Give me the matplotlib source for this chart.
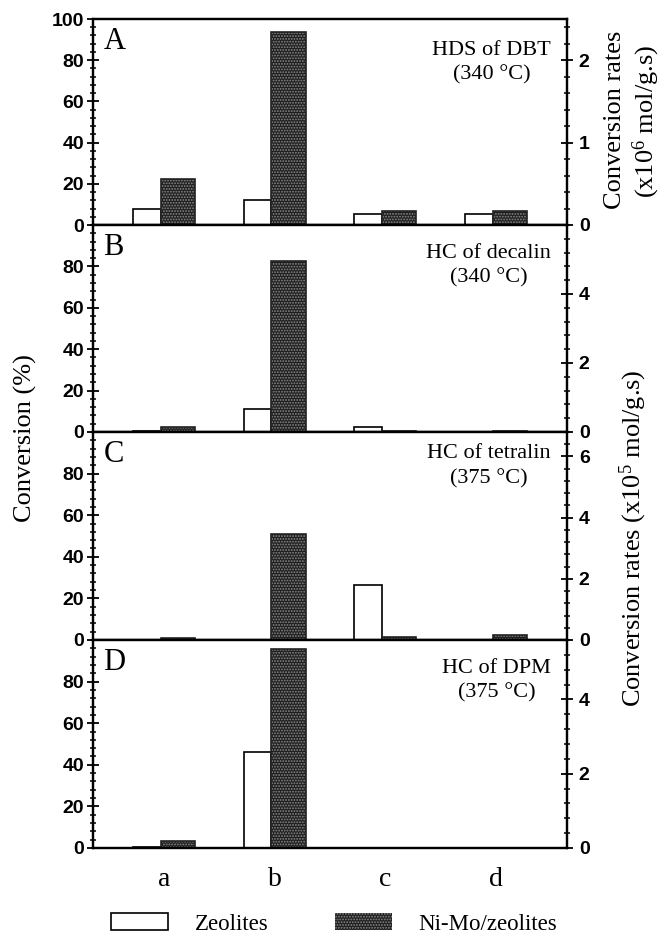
import numpy as np
import matplotlib
matplotlib.use("Agg")
import matplotlib.pyplot as plt
from matplotlib.ticker import MultipleLocator, FixedLocator
from matplotlib.patches import Patch

# ---------------- data ----------------
categories = ["a", "b", "c", "d"]
panel_letters = ["A", "B", "C", "D"]
panel_titles = ["HDS of DBT\n(340 °C)", "HC of decalin\n(340 °C)",
                "HC of tetralin\n(375 °C)", "HC of DPM\n(375 °C)"]
zeolites_A = [7.8, 12.2, 5.4, 5.4]
nimo_A = [22.5, 93.8, 7.0, 7.0]
zeolites_B = [0.5, 11.1, 2.6, 0.2]
nimo_B = [2.6, 82.4, 0.6, 0.3]
zeolites_C = [0.0, 0.0, 26.5, 0.0]
nimo_C = [1.1, 50.9, 1.6, 2.6]
zeolites_D = [0.5, 46.0, 0.0, 0.0]
nimo_D = [3.5, 95.6, 0.0, 0.0]
right_max = [2.5, 6.0, 6.8, 5.6]
right_major = [[0, 1, 2], [0, 2, 4], [0, 2, 4, 6], [0, 2, 4]]
right_minor = [0.2, 0.4, 0.4, 0.4]
left_major = [[0, 20, 40, 60, 80, 100], [0, 20, 40, 60, 80],
              [0, 20, 40, 60, 80], [0, 20, 40, 60, 80]]
legend_labels = ["Zeolites", "Ni-Mo/zeolites"]

zeo = [zeolites_A, zeolites_B, zeolites_C, zeolites_D]
nimo = [nimo_A, nimo_B, nimo_C, nimo_D]

# ---------------- style ----------------
SERIF = "Liberation Serif"
SANS = "Liberation Sans"
plt.rcParams["mathtext.fontset"] = "custom"
plt.rcParams["mathtext.rm"] = SERIF
plt.rcParams["mathtext.it"] = SERIF
plt.rcParams["hatch.linewidth"] = 0.9

W, H = 662, 934
fig = plt.figure(figsize=(W / 100, H / 100), dpi=100)

left_px, right_px = 93, 567
tops = [19, 225, 432, 640]
bots = [225, 432, 640, 848]
title_off = [0.105, 0.09, 0.06, 0.09]

x = np.arange(len(categories))
dark_face = "#1e1e1e"
dot_col = "#8a8a8a"

for i in range(4):
    ax = fig.add_axes([left_px / W, 1 - bots[i] / H,
                       (right_px - left_px) / W, (bots[i] - tops[i]) / H])
    ax.bar(x - 0.28, zeo[i], width=0.25, align="edge", facecolor="white",
           edgecolor="black", linewidth=1.2, zorder=2)
    ax.bar(x - 0.03, nimo[i], width=0.31, align="edge", facecolor=dark_face,
           edgecolor=dot_col, hatch="......", linewidth=0, zorder=2)
    ax.bar(x - 0.03, nimo[i], width=0.31, align="edge", fill=False,
           edgecolor="#222222", linewidth=1.2, zorder=3)
    ax.set_xlim(-0.64, 3.64)
    ax.set_ylim(0, 100)
    ax.yaxis.set_major_locator(FixedLocator(left_major[i]))
    ax.yaxis.set_minor_locator(MultipleLocator(4))
    ax.tick_params(axis="y", which="major", direction="inout", length=9,
                   width=1.3, pad=2, labelsize=14)
    ax.tick_params(axis="y", which="minor", direction="inout", length=5,
                   width=1.1)
    for lab in ax.get_yticklabels():
        lab.set_fontfamily(SANS)
        lab.set_fontweight("bold")
    if i == 3:
        ax.set_xticks(x)
        ax.set_xticklabels(categories, fontfamily=SERIF, fontsize=20)
        ax.tick_params(axis="x", length=0, pad=14)
    else:
        ax.set_xticks([])
    for s in ax.spines.values():
        s.set_linewidth(1.6)
        s.set_zorder(5)

    ax.text(0.022, 0.96, panel_letters[i], transform=ax.transAxes,
            ha="left", va="top", fontfamily=SERIF, fontsize=22)
    ax.text(0.966, 1 - title_off[i], panel_titles[i], transform=ax.transAxes,
            ha="right", va="top", multialignment="center",
            fontfamily=SERIF, fontsize=16, linespacing=1.4)

    ax2 = ax.twinx()
    ax2.set_ylim(0, right_max[i])
    ax2.yaxis.set_major_locator(FixedLocator(right_major[i]))
    ax2.yaxis.set_minor_locator(MultipleLocator(right_minor[i]))
    ax2.tick_params(axis="y", which="major", direction="inout", length=9,
                    width=1.3, pad=4, labelsize=14)
    ax2.tick_params(axis="y", which="minor", direction="inout", length=5,
                    width=1.1)
    for lab in ax2.get_yticklabels():
        lab.set_fontfamily(SANS)
        lab.set_fontweight("bold")
    for s in ax2.spines.values():
        s.set_linewidth(1.6)

# axis labels
fig.text(25 / W, 1 - 438 / H, "Conversion (%)", rotation=90, ha="center",
         va="center", fontfamily=SERIF, fontsize=19)
fig.text(615 / W, 1 - 120 / H, "Conversion rates", rotation=90, ha="center",
         va="center", fontfamily=SERIF, fontsize=19)
fig.text(646 / W, 1 - 121 / H, r"(x10$^{6}$ mol/g.s)", rotation=90,
         ha="center", va="center", fontfamily=SERIF, fontsize=19)
fig.text(633 / W, 1 - 538 / H, r"Conversion rates (x10$^{5}$ mol/g.s)",
         rotation=90, ha="center", va="center", fontfamily=SERIF, fontsize=19)

# legend
h1 = Patch(facecolor="white", edgecolor="black", linewidth=1.2)
h2 = Patch(facecolor=dark_face, edgecolor=dot_col, hatch="......", linewidth=0)
leg = fig.legend([h1, h2], legend_labels, loc="center",
                 bbox_to_anchor=(334 / W, 1 - 924 / H), ncol=2, frameon=False,
                 prop={"family": SERIF, "size": 16.5},
                 handlelength=2.5, handleheight=0.7, handletextpad=1.15,
                 columnspacing=2.9)

fig.savefig("out.png", dpi=100)
